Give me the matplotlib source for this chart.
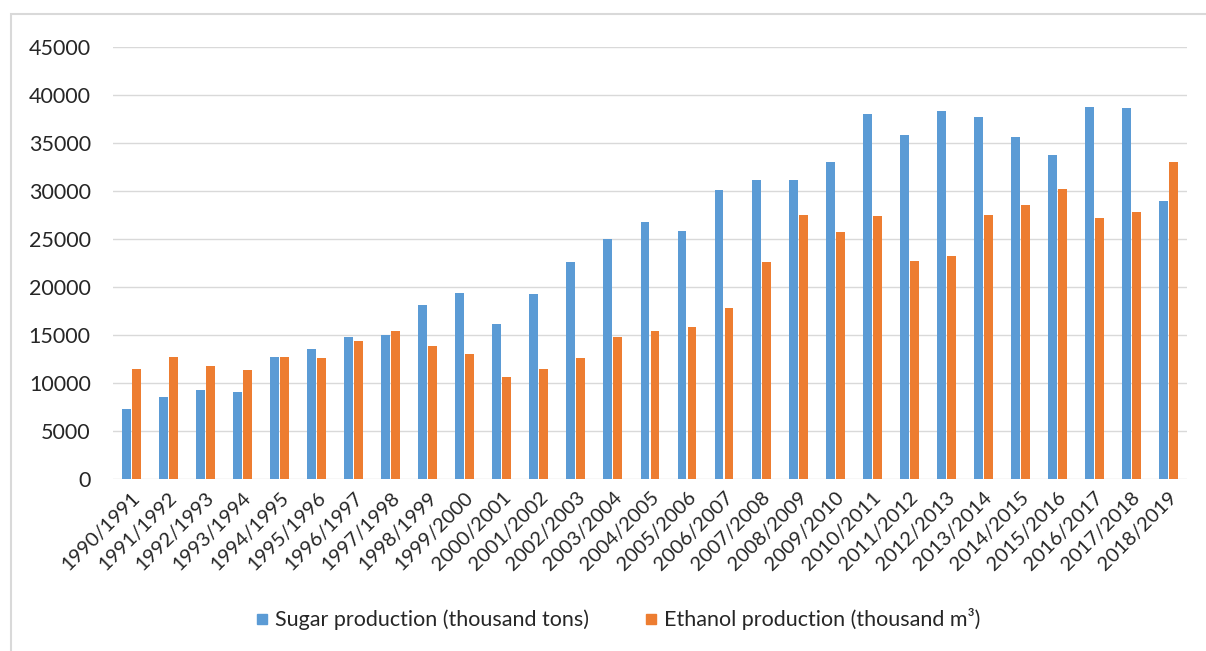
import matplotlib.pyplot as plt
import numpy as np
from matplotlib.lines import Line2D
from matplotlib.patches import Rectangle

seasons = [
    "1990/1991", "1991/1992", "1992/1993", "1993/1994", "1994/1995",
    "1995/1996", "1996/1997", "1997/1998", "1998/1999", "1999/2000",
    "2000/2001", "2001/2002", "2002/2003", "2003/2004", "2004/2005",
    "2005/2006", "2006/2007", "2007/2008", "2008/2009", "2009/2010",
    "2010/2011", "2011/2012", "2012/2013", "2013/2014", "2014/2015",
    "2015/2016", "2016/2017", "2017/2018", "2018/2019",
]
sugar = [
    7300, 8500, 9300, 9100, 12700, 13500, 14800, 15000, 18100, 19400,
    16100, 19300, 22600, 25000, 26800, 25800, 30100, 31100, 31100, 33000,
    38000, 35800, 38300, 37700, 35600, 33800, 38700, 38600, 29000,
]
ethanol = [
    11500, 12700, 11800, 11400, 12700, 12600, 14400, 15400, 13900, 13000,
    10600, 11500, 12600, 14800, 15400, 15800, 17800, 22600, 27500, 25700,
    27400, 22700, 23200, 27500, 28500, 30200, 27200, 27800, 33000,
]

plt.rcParams["font.family"] = ["Lato", "DejaVu Sans"]

fig = plt.figure(figsize=(12.06, 6.51), dpi=100)
ax = fig.add_axes([0.0937, 0.2642, 0.8905, 0.6636])

x = np.arange(len(seasons))
w = 0.24
ax.bar(x - 0.135, sugar, w, color="#5b9bd5", zorder=3)
ax.bar(x + 0.135, ethanol, w, color="#ed7d31", zorder=3)

ax.set_ylim(0, 45000)
ax.set_yticks(np.arange(0, 45001, 5000))
ax.set_xlim(-0.5, len(seasons) - 0.5)
ax.set_xticks(x)
ax.set_xticklabels(seasons, rotation=45, ha="right", rotation_mode="anchor", fontsize=14.5)
ax.tick_params(axis="y", labelsize=15.5, length=0, pad=16, labelcolor="#262626")
ax.tick_params(axis="x", length=0, pad=7, labelcolor="#262626")
ax.grid(axis="y", color="#d9d9d9", lw=1, zorder=0)
for s in ax.spines.values():
    s.set_visible(False)

# square legend keys like the spreadsheet original
handles = [
    Line2D([], [], ls="none", marker="s", markersize=7.5, color="#5b9bd5"),
    Line2D([], [], ls="none", marker="s", markersize=7.5, color="#ed7d31"),
]
labels = ["Sugar production (thousand tons)", "Ethanol production (thousand m³)"]
fig.legend(handles, labels, loc="center", bbox_to_anchor=(618 / 1206, 0.049), ncol=2,
           frameon=False, fontsize=15.5, handlelength=0.6, handletextpad=0.3,
           columnspacing=2.6, labelcolor="#262626")

fig.patches.append(Rectangle((11 / 1206, -0.1), 1.2, 1.1 - 14 / 651, transform=fig.transFigure,
                             fill=False, edgecolor="#d9d9d9", lw=1.5))

fig.savefig("out.png")
